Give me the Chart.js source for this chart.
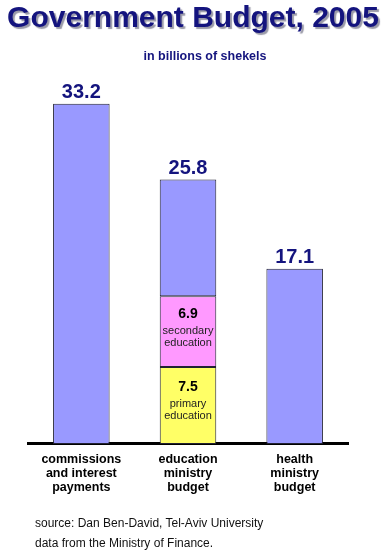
<!DOCTYPE html>
<html>
<head>
<meta charset="utf-8">
<script src="https://cdn.jsdelivr.net/npm/chart.js@4/dist/chart.umd.min.js"></script>
<style>
  body { margin: 0; background: #fff; font-family: Arial, "Liberation Sans", sans-serif; }
  #wrap { position: relative; width: 390px; height: 551px; overflow: hidden; }
  #chart { position: absolute; left: 0; top: 0; }
  .title { position: absolute; left: -2px; width: 390px; top: 0px; text-align: center; font-weight: bold; font-size: 30px; color: #14147e; text-shadow: 2px 2px 1px #9a9aa8; white-space: nowrap; }
  .sub { position: absolute; left: 10px; width: 390px; top: 49px; text-align: center; font-weight: bold; font-size: 12.5px; color: #14147e; }
  .src { position: absolute; left: 35px; top: 513px; font-size: 12px; line-height: 20px; color: #111; }
</style>
</head>
<body>
<div id="wrap">
  <canvas id="chart" width="390" height="551"></canvas>
  <div class="title">Government Budget, 2005</div>
  <div class="sub">in billions of shekels</div>
  <div class="src">source: Dan Ben-David, Tel-Aviv University<br>data from the Ministry of Finance.</div>
</div>
<script>
// billions of shekels
const categories = [
  ["commissions", "and interest", "payments"],
  ["education", "ministry", "budget"],
  ["health", "ministry", "budget"]
];
const totals = [33.2, 25.8, 17.1];
const primary = [null, 7.5, null];
const secondary = [null, 6.9, null];
const primaryLabel = ["primary", "education"];
const secondaryLabel = ["secondary", "education"];

// what is left of each bar above the education parts
const rest = totals.map((t, i) => +(t - (primary[i] || 0) - (secondary[i] || 0)).toFixed(1));

const labelPlugin = {
  id: "labels",
  afterDatasetsDraw(chart) {
    const ctx = chart.ctx;
    ctx.save();
    ctx.textAlign = "center";
    ctx.textBaseline = "middle";

    // totals above bars
    const top = chart.getDatasetMeta(2).data;
    top.forEach((bar, i) => {
      ctx.fillStyle = "#14147e";
      ctx.font = "bold 20px Arial, 'Liberation Sans'";
      ctx.fillText(totals[i].toFixed(1), bar.x, bar.y - 11);
    });

    // labels inside the stacked pieces
    const pieces = [[0, primary, primaryLabel], [1, secondary, secondaryLabel]];
    pieces.forEach(([di, vals, words]) => {
      chart.getDatasetMeta(di).data.forEach((bar, i) => {
        if (vals[i] == null) return;
        const mid = (bar.y + bar.base) / 2;
        ctx.fillStyle = "#000";
        ctx.font = "bold 14px Arial, 'Liberation Sans'";
        ctx.fillText(vals[i].toFixed(1), bar.x, mid - 18);
        ctx.fillStyle = "#222";
        ctx.font = "11px Arial, 'Liberation Sans'";
        ctx.fillText(words[0], bar.x, mid - 1);
        ctx.fillText(words[1], bar.x, mid + 11);
      });
    });
    ctx.restore();
  }
};

new Chart(document.getElementById("chart"), {
  type: "bar",
  data: {
    labels: categories,
    datasets: [
      { label: "primary", data: primary, backgroundColor: "#ffff66" },
      { label: "secondary", data: secondary, backgroundColor: "#ff99ff" },
      { label: "total", data: rest, backgroundColor: "#9999ff" }
    ].map(d => Object.assign(d, {
      borderColor: "#222233",
      borderWidth: 1,
      borderSkipped: false,
      barPercentage: 0.53,
      categoryPercentage: 1
    }))
  },
  options: {
    responsive: false,
    animation: false,
    layout: { padding: { left: 28, right: 42, top: 34, bottom: 56 } },
    plugins: { legend: { display: false }, tooltip: { enabled: false } },
    scales: {
      x: {
        stacked: true,
        grid: { display: false },
        border: { color: "#000", width: 3 },
        ticks: {
          color: "#000",
          padding: 0,
          font: { family: "Arial, 'Liberation Sans'", size: 12.5, weight: "bold", lineHeight: 1.15 }
        }
      },
      y: {
        stacked: true,
        display: false,
        min: 0,
        max: 40
      }
    }
  },
  plugins: [labelPlugin]
});
</script>
</body>
</html>
